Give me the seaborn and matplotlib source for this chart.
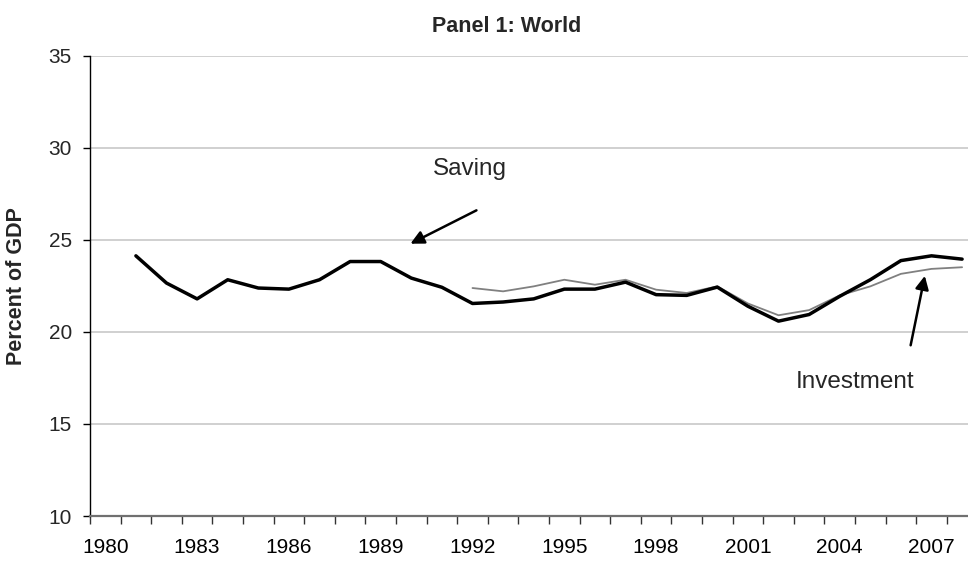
import numpy as np
import pandas as pd
import matplotlib
matplotlib.use("Agg")
import matplotlib.pyplot as plt
import seaborn as sns
from matplotlib.ticker import FixedLocator

# dati (percentuale del PIL)
years = list(range(1981, 2009))
saving = [24.14, 22.66, 21.80, 22.84, 22.39, 22.33, 22.84, 23.83, 23.83, 22.93,
          22.43, 21.55, 21.63, 21.80, 22.33, 22.33, 22.71, 22.03, 21.99, 22.44,
          21.40, 20.59, 20.95, 21.94, 22.84, 23.88, 24.14, 23.96]
inv_years = list(range(1992, 2009))
investment = [22.39, 22.21, 22.48, 22.84, 22.57, 22.84, 22.30, 22.12, 22.48, 21.55,
              20.91, 21.19, 21.99, 22.48, 23.16, 23.43, 23.52]
year_labels = list(range(1980, 2008, 3))
y_ticks = [10, 15, 20, 25, 30, 35]

df_sav = pd.DataFrame({"year": years, "value": saving})
df_inv = pd.DataFrame({"year": inv_years, "value": investment})

sns.set_theme(style="white")
plt.rcParams['font.family'] = ['Liberation Sans', 'DejaVu Sans']

fig = plt.figure(figsize=(9.68, 5.62), dpi=100)
ax = fig.add_axes([90 / 968, 46 / 562, 878 / 968, 460 / 562])

# griglia orizzontale sotto le linee
for v in y_ticks[1:]:
    ax.axhline(v, color="#c8c8c8", lw=1.2, zorder=0)

sns.lineplot(data=df_inv, x="year", y="value", ax=ax, color="#808080", lw=1.3, zorder=3)
sns.lineplot(data=df_sav, x="year", y="value", ax=ax, color="black", lw=2.5, zorder=4)

ax.set_xlim(1979.5, 1979.5 + 878 / 30.6)
ax.set_ylim(10, 35)
ax.set_xlabel("")
ax.set_ylabel("")

# assi stile Excel
for s in ["top", "right"]:
    ax.spines[s].set_visible(False)
ax.spines["left"].set_color("black")
ax.spines["left"].set_linewidth(1.0)
ax.spines["bottom"].set_color("#707070")
ax.spines["bottom"].set_linewidth(1.6)

ax.xaxis.set_major_locator(FixedLocator(year_labels))
ax.xaxis.set_minor_locator(FixedLocator(np.arange(1979.5, 2008.6, 1.0)))
ax.set_xticklabels([str(y) for y in year_labels])
ax.tick_params(axis="x", which="major", length=0, pad=16, labelsize=15, colors="black")
ax.tick_params(axis="x", which="minor", bottom=True, length=6, width=1, color="#333333", direction="out")

ax.set_yticks(y_ticks)
ax.tick_params(axis="y", which="major", left=True, length=5, width=1, color="black",
               direction="out", pad=8, labelsize=15)

# annotazioni
ax.annotate("", xy=(1989.89, 24.73), xytext=(1992.21, 26.68),
            arrowprops=dict(arrowstyle="-|>", color="black", lw=1.8, mutation_scale=20))
ax.text(1991.92, 28.86, "Saving", ha="center", va="center", fontsize=17.5)
ax.annotate("", xy=(2006.8, 23.2), xytext=(2006.3, 19.13),
            arrowprops=dict(arrowstyle="-|>", color="black", lw=1.8, mutation_scale=20))
ax.text(2004.5, 17.28, "Investment", ha="center", va="center", fontsize=17.5)

fig.text(507 / 968, 1 - 26 / 562, "Panel 1: World", ha="center", va="center",
         fontsize=15.5, fontweight="bold")
fig.text(17 / 968, 1 - 286 / 562, "Percent of GDP", ha="center", va="center",
         rotation=90, fontsize=15.5, fontweight="bold")

fig.savefig("out.png", dpi=100)
